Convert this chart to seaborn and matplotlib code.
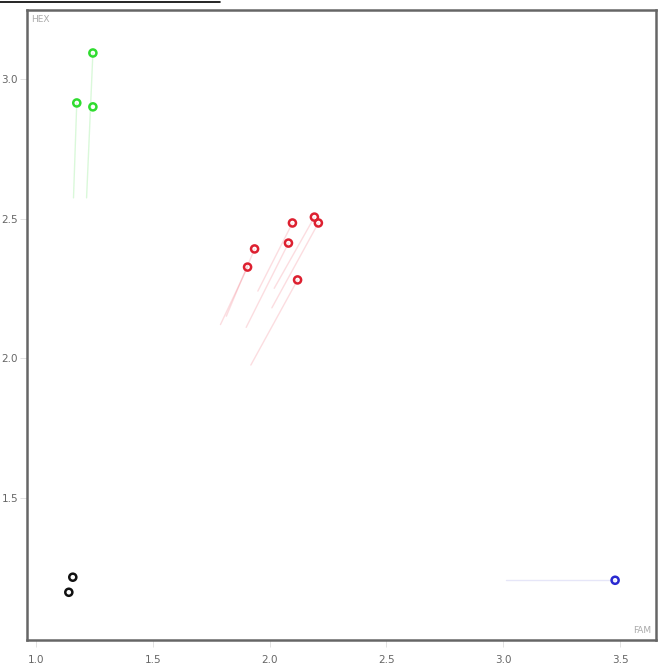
import numpy as np
import pandas as pd
import matplotlib
matplotlib.use("Agg")
import matplotlib.pyplot as plt
from matplotlib.lines import Line2D
import seaborn as sns

# ---- data ----
groups = ["green", "green", "green",
          "red", "red", "red", "red", "red", "red", "red",
          "blue", "black", "black"]
fam = [1.244, 1.175, 1.244,
       1.906, 1.936, 2.081, 2.098, 2.192, 2.209, 2.120,
       3.479, 1.158, 1.141]
hex_ = [3.093, 2.914, 2.900,
        2.326, 2.391, 2.412, 2.484, 2.505, 2.484, 2.280,
        1.204, 1.215, 1.161]
# trail tails (previous positions)
tail_fam = [1.217, 1.161, np.nan,
            1.790, 1.815, 1.900, 1.950, 2.020, 2.010, 1.920,
            3.010, np.nan, np.nan]
tail_hex = [2.574, 2.574, np.nan,
            2.120, 2.150, 2.110, 2.240, 2.250, 2.180, 1.975,
            1.204, np.nan, np.nan]
group_colors = {"green": "#2fdc2f", "red": "#dd2030", "blue": "#2a2ad0", "black": "#111111"}
trail_colors = {"green": "#33dd33", "red": "#ee4455", "blue": "#7777dd", "black": "#111111"}
x_ticks = [1.0, 1.5, 2.0, 2.5, 3.0, 3.5]
y_ticks = [1.5, 2.0, 2.5, 3.0]

df = pd.DataFrame({"group": groups, "FAM": fam, "HEX": hex_,
                   "tFAM": tail_fam, "tHEX": tail_hex})

sns.set_style("white")
fig = plt.figure(figsize=(6.63, 6.70), dpi=100)
ax = fig.add_axes([27 / 663, 30 / 670, 629 / 663, 630 / 670])

# trails
for _, r in df.iterrows():
    if np.isnan(r.tFAM):
        continue
    ax.plot([r.tFAM, r.FAM], [r.tHEX, r.HEX], color=trail_colors[r.group],
            alpha=0.18, lw=1.0, zorder=1)

sns.scatterplot(data=df, x="FAM", y="HEX", hue="group", palette=group_colors,
                s=26, legend=False, ax=ax, zorder=3)
coll = ax.collections[-1]
fc = coll.get_facecolors()
coll.set_edgecolors(fc)
coll.set_facecolors("none")
coll.set_linewidths(1.8)

ax.set_xlim(0.962, 3.654)
ax.set_ylim(0.99, 3.247)
ax.set_xticks(x_ticks)
ax.set_yticks(y_ticks)
ax.set_xticklabels([f"{t:.1f}" for t in x_ticks])
ax.set_yticklabels([f"{t:.1f}" for t in y_ticks])
ax.tick_params(axis="both", which="both", length=5, width=0.6, color="#dddddd",
               labelsize=7.5, labelcolor="#666666", direction="out",
               bottom=True, left=True)
ax.tick_params(axis="y", pad=1.5)
ax.tick_params(axis="x", pad=6)
ax.set_xlabel("")
ax.set_ylabel("")
for s in ax.spines.values():
    s.set_visible(True)
    s.set_color("#666666")
    s.set_linewidth(1.8)

ax.text(0.006, 0.992, "HEX", transform=ax.transAxes, ha="left", va="top",
        fontsize=6.5, color="#aaaaaa")
ax.text(0.992, 0.008, "FAM", transform=ax.transAxes, ha="right", va="bottom",
        fontsize=6.5, color="#aaaaaa")

fig.add_artist(Line2D([0, 220 / 663], [1 - 1.5 / 670, 1 - 1.5 / 670],
                      transform=fig.transFigure, color="black", lw=1.2))

fig.savefig("out.png", dpi=100)
